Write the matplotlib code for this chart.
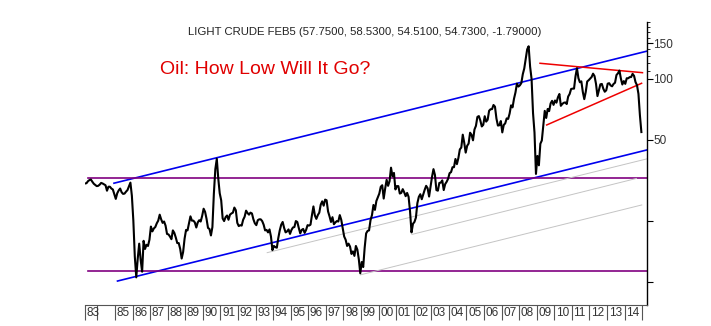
import matplotlib
matplotlib.use('Agg')
import matplotlib.pyplot as plt
from matplotlib import font_manager
from matplotlib.ticker import NullFormatter
import numpy as np

# light crude, approximate month-end closes, Apr 1983 .. Dec 2014
start_year, start_month = 1983, 4
monthly_close = [
    30.5, 30.6, 31.3, 31.7, 31.9, 31.1, 30.4, 30.0, 29.6,                    # 83 (Apr-Dec)
    29.7, 30.1, 30.7, 30.5, 30.2, 29.9, 28.1, 29.4, 29.4, 28.8, 28.5, 27.0,  # 84
    25.6, 27.3, 28.2, 28.8, 27.6, 27.1, 27.2, 27.8, 28.3, 29.5, 30.8, 26.5,  # 85
    20.0, 13.3, 10.5, 13.0, 15.4, 12.8, 11.2, 15.9, 14.5, 15.2, 15.0, 16.1,  # 86
    18.7, 17.7, 18.3, 18.6, 19.4, 20.0, 21.4, 20.3, 19.5, 19.8, 18.9, 17.2,  # 87
    17.1, 16.7, 16.2, 17.9, 17.4, 16.5, 15.5, 15.5, 14.5, 13.0, 14.0, 16.3,  # 88
    18.0, 17.9, 19.4, 21.0, 20.0, 20.0, 19.6, 18.5, 19.6, 20.1, 19.8, 21.1,  # 89
    22.9, 22.1, 20.4, 18.4, 18.2, 16.9, 18.6, 27.2, 35.9, 40.4, 32.3, 27.3,  # 90
    25.2, 20.5, 19.9, 20.8, 21.2, 20.2, 21.4, 21.7, 21.9, 23.2, 22.5, 19.5,  # 91
    18.8, 19.0, 18.9, 20.2, 20.9, 22.4, 21.8, 21.4, 21.9, 21.7, 20.3, 19.4,  # 92
    19.0, 20.1, 20.3, 20.3, 19.9, 19.1, 17.9, 18.0, 17.5, 18.1, 16.7, 14.3,  # 93
    15.0, 14.8, 14.7, 16.4, 17.9, 19.1, 19.7, 18.4, 17.5, 17.7, 18.1, 17.2,  # 94
    18.0, 18.5, 18.6, 19.9, 19.7, 18.4, 17.3, 18.0, 18.2, 17.4, 18.0, 19.0,  # 95
    18.9, 19.1, 21.3, 23.5, 21.2, 20.4, 21.3, 21.9, 24.0, 24.9, 23.7, 25.4,  # 96
    25.2, 22.2, 21.0, 19.7, 20.8, 19.2, 19.6, 19.9, 19.8, 21.3, 20.2, 18.3,  # 97
    16.7, 16.1, 15.0, 15.4, 14.9, 13.7, 14.1, 13.4, 15.0, 14.4, 12.9, 11.0,  # 98
    12.5, 11.8, 14.7, 17.3, 17.8, 17.9, 20.1, 21.3, 23.9, 22.6, 25.0, 26.1,  # 99
    27.2, 29.4, 29.9, 25.7, 28.8, 31.8, 29.7, 31.3, 36.5, 33.1, 34.4, 28.5,  # 00
    29.6, 29.6, 27.2, 27.4, 28.6, 27.6, 26.4, 27.4, 26.2, 22.2, 17.5, 19.3,  # 01
    19.7, 20.7, 24.4, 26.2, 27.0, 25.5, 26.9, 28.4, 29.7, 28.9, 26.3, 29.4,  # 02
    32.9, 35.9, 33.6, 28.3, 28.1, 30.7, 30.8, 31.6, 28.3, 30.3, 31.1, 32.2,  # 03
    34.3, 34.7, 36.7, 36.7, 40.3, 38.0, 40.7, 44.9, 45.9, 53.1, 48.5, 43.3,  # 04
    46.8, 48.0, 54.3, 53.0, 49.8, 56.3, 58.7, 65.0, 65.6, 62.4, 58.3, 59.4,  # 05
    65.5, 61.6, 62.9, 69.7, 70.9, 71.0, 74.4, 73.0, 63.8, 58.9, 59.1, 62.0,  # 06
    54.5, 59.3, 60.4, 63.9, 63.5, 67.5, 74.1, 72.4, 79.9, 85.8, 94.8, 91.7,  # 07
    93.0, 95.4, 105.5, 112.6, 125.4, 140.0, 145.0, 115.0, 100.0, 67.8, 54.4, 34.0,  # 08
    41.7, 37.5, 47.9, 49.7, 59.0, 69.6, 64.2, 71.1, 69.4, 75.7, 78.0, 74.5,  # 09
    78.3, 76.4, 81.2, 84.3, 73.7, 75.3, 76.3, 76.6, 75.2, 81.9, 84.3, 89.2,  # 10
    89.6, 89.6, 102.9, 113.0, 100.9, 96.3, 97.3, 86.3, 79.5, 86.3, 97.2, 98.6,  # 11
    100.3, 102.2, 106.2, 103.3, 94.7, 82.3, 87.9, 94.1, 94.5, 89.5, 86.5, 87.9,  # 12
    94.8, 95.3, 92.9, 92.0, 94.5, 95.8, 104.6, 106.6, 110.0, 100.5, 93.9, 97.6,  # 13
    94.6, 100.8, 100.8, 102.1, 102.2, 106.0, 103.6, 96.5, 93.2, 84.4, 66.2, 54.7,  # 14
]

# trend lines, (year, price) end points
upper_channel = [(1984.94, 30.6), (2015.25, 137.0)]
lower_channel = [(1985.14, 10.07), (2015.25, 44.6)]
upper_flat = [(1983.45, 32.5), (2015.25, 32.5)]
lower_flat = [(1983.45, 11.3), (2015.25, 11.3)]
gray_lines = [
    [(1993.66, 13.9), (2015.25, 40.3)],
    [(2001.90, 17.1), (2014.68, 32.3)],
    [(1998.96, 10.8), (2014.98, 23.9)],
]
wedge_top = [(2009.19, 119.5), (2015.02, 107.4)]
wedge_bottom = [(2009.57, 59.3), (2014.97, 95.2)]

tick_years = [1983.29] + list(range(1984, 2016))
tick_labels = ['83', ''] + ['%02d' % (y % 100) for y in range(1985, 2015)] + ['']

price_ticks = [10, 20, 50, 100, 150]
price_labels = ['', '', '50', '100', '150']
price_minor = [110, 120, 130, 140, 160, 170, 180, 190]

header = 'LIGHT CRUDE FEB5 (57.7500, 58.5300, 54.5100, 54.7300, -1.79000)'
headline = 'Oil: How Low Will It Go?'


def pick_font(names):
    for name in names:
        try:
            font_manager.findfont(name, fallback_to_default=False)
            return name
        except Exception:
            pass
    return 'DejaVu Sans'


base_font = pick_font(['Liberation Sans', 'Arial'])
narrow_font = pick_font(['Liberation Sans Narrow', 'Arial Narrow'])
plt.rcParams['font.family'] = base_font

fig = plt.figure(figsize=(7.11, 3.26), dpi=100)
ax = fig.add_axes([85 / 711, 21 / 326, (646.5 - 85) / 711, 283 / 326])

t = np.array([start_year + (start_month - 1 + i + 0.5) / 12 for i in range(len(monthly_close))])
ax.plot(t, monthly_close, color='black', lw=1.5, zorder=5)


def seg(points, **kw):
    xs, ys = zip(*points)
    ax.plot(xs, ys, **kw)


seg(upper_channel, color='#0000ee', lw=1.2)
seg(lower_channel, color='#0000ee', lw=1.2)
seg(upper_flat, color='#800080', lw=1.2)
seg(lower_flat, color='#800080', lw=1.2)
for g in gray_lines:
    seg(g, color='#c4c4c4', lw=0.7)
seg(wedge_top, color='#ee0000', lw=1.1)
seg(wedge_bottom, color='#ee0000', lw=1.1)

ax.set_yscale('log')
ax.set_ylim(7.67, 191)
ax.set_xlim(1983.29, 2015.25)

for side in ['left', 'top']:
    ax.spines[side].set_visible(False)
ax.spines['right'].set_color('black')
ax.spines['right'].set_linewidth(1.0)
ax.spines['bottom'].set_color('#555555')
ax.spines['bottom'].set_linewidth(0.8)

ax.yaxis.tick_right()
ax.set_yticks(price_ticks)
ax.set_yticklabels(price_labels)
ax.set_yticks(price_minor, minor=True)
ax.yaxis.set_minor_formatter(NullFormatter())
ax.tick_params(axis='y', which='major', length=4, width=0.8, pad=1,
               labelsize=8.5, labelcolor='#333333')
ax.tick_params(axis='y', which='minor', length=2, width=0.6)

ax.set_xticks(tick_years)
ax.set_xticklabels([])
ax.xaxis.set_minor_locator(matplotlib.ticker.NullLocator())
ax.tick_params(axis='x', length=11, width=0.8, color='#555555', direction='out')
for yr, lbl in zip(tick_years, tick_labels):
    if lbl:
        ax.annotate(lbl, xy=(yr, 0), xycoords=ax.get_xaxis_transform(),
                    xytext=(1.2, -1.5), textcoords='offset points',
                    ha='left', va='top', fontsize=8.5, color='#333333')

fig.text(365 / 711, 1 - 32 / 326, header, ha='center', va='center',
         fontsize=8.2, color='#222222')
if narrow_font != 'DejaVu Sans':
    fig.text(160 / 711, 1 - 70 / 326, headline, ha='left', va='center',
             fontsize=17, color='#e00000', family=narrow_font)
else:
    fig.text(160 / 711, 1 - 70 / 326, headline, ha='left', va='center',
             fontsize=14, color='#e00000')

fig.savefig('out.png', dpi=100)
